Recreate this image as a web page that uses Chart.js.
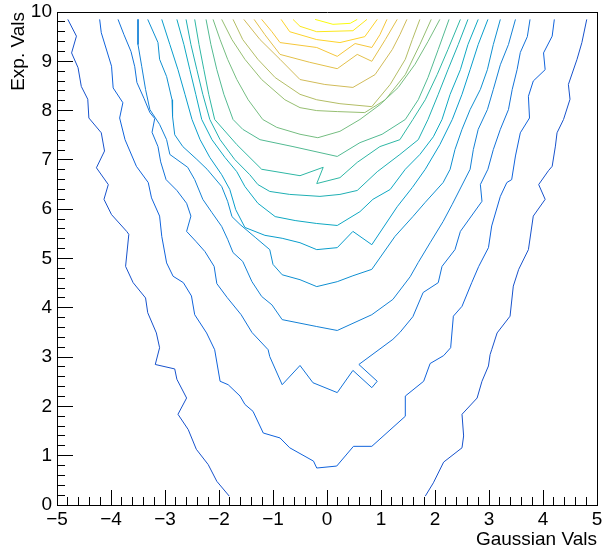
<!DOCTYPE html>
<html><head><meta charset="utf-8">
<script src="https://cdn.jsdelivr.net/npm/chart.js@4.4.1/dist/chart.umd.min.js"></script>
<style>html,body{margin:0;padding:0;background:#fff;overflow:hidden}</style>
</head><body>
<canvas id="c" width="603" height="554"></canvas>
<script>
// ---- contour lines (x = Gaussian Vals, y = Exp. Vals), outermost first ----
const level01a = [[-4.80,9.85],[-4.64,9.51],[-4.73,9.17],[-4.61,8.87],[-4.55,8.49],[-4.43,8.23],[-4.41,7.85],[-4.18,7.55],[-4.12,7.18],[-4.27,6.84],[-4.05,6.50],[-4.13,6.20],[-3.99,5.89],[-3.71,5.55],[-3.67,5.49],[-3.73,4.84],[-3.59,4.51],[-3.36,4.20],[-3.32,3.90],[-3.16,3.49],[-3.10,3.19],[-3.18,2.85],[-2.82,2.76],[-2.78,2.55],[-2.60,2.17],[-2.76,1.84],[-2.57,1.53],[-2.42,1.13],[-2.20,0.82],[-2.04,0.48],[-1.81,0.18]];
const level01b = [[1.82,0.18],[1.97,0.45],[2.16,0.87],[2.50,1.16],[2.53,1.40],[2.50,1.84],[2.78,2.17],[2.87,2.51],[2.99,2.82],[3.02,3.05],[3.05,3.15],[3.15,3.49],[3.39,3.83],[3.45,4.44],[3.55,4.78],[3.73,5.18],[3.82,5.86],[4.04,6.20],[3.92,6.50],[4.10,6.78],[4.17,6.87],[4.23,7.28],[4.26,7.55],[4.38,7.82],[4.50,8.23],[4.47,8.53],[4.63,9.04],[4.72,9.38],[4.81,9.85]];
const level02 = [[-4.21,9.85],[-4.18,9.58],[-3.99,8.90],[-3.96,8.46],[-3.78,8.16],[-3.84,7.85],[-3.74,7.41],[-3.53,6.87],[-3.31,6.54],[-3.25,6.23],[-3.10,5.86],[-3.06,5.45],[-2.97,4.91],[-2.85,4.64],[-2.66,4.51],[-2.51,4.24],[-2.45,3.86],[-2.23,3.49],[-2.08,3.15],[-1.98,2.51],[-1.83,2.44],[-1.61,2.21],[-1.52,2.04],[-1.37,1.90],[-1.18,1.46],[-0.87,1.36],[-0.69,1.16],[-0.25,0.89],[-0.19,0.75],[0.18,0.79],[0.49,1.19],[0.83,1.19],[1.45,1.80],[1.45,2.21],[1.79,2.51],[1.91,2.87],[2.16,3.03],[2.29,3.19],[2.34,3.83],[2.50,4.03],[2.68,4.51],[2.81,4.84],[2.99,5.22],[3.05,5.66],[3.21,6.26],[3.33,6.54],[3.42,6.60],[3.49,7.08],[3.58,7.55],[3.75,7.85],[3.73,8.29],[3.82,8.60],[4.04,8.83],[4.01,9.17],[4.17,9.51],[4.21,9.85]];
const level03 = [[-3.87,9.85],[-3.76,9.54],[-3.63,9.20],[-3.56,8.89],[-3.52,8.57],[-3.39,8.25],[-3.28,7.96],[-3.19,7.84],[-3.24,7.56],[-3.13,7.27],[-3.08,6.96],[-2.98,6.60],[-2.78,6.38],[-2.60,6.12],[-2.52,5.86],[-2.60,5.55],[-2.43,5.35],[-2.26,5.14],[-2.09,4.84],[-2.04,4.49],[-1.85,4.21],[-1.59,3.86],[-1.39,3.50],[-1.09,3.15],[-1.06,3.01],[-0.83,2.44],[-0.50,2.83],[-0.26,2.48],[0.19,2.28],[0.48,2.73],[0.83,2.38],[0.93,2.51],[0.59,2.85],[1.22,3.36],[1.35,3.50],[1.59,3.82],[1.78,4.31],[2.06,4.51],[2.13,4.84],[2.37,5.18],[2.47,5.55],[2.87,6.16],[2.84,6.50],[2.98,6.81],[3.08,7.21],[3.21,7.62],[3.36,8.02],[3.43,8.43],[3.52,8.83],[3.58,9.18],[3.71,9.50],[3.76,9.85]];
const level04 = [[-3.50,9.85],[-3.50,9.34],[-3.43,8.89],[-3.36,8.43],[-3.28,8.02],[-3.10,7.72],[-2.97,7.41],[-2.91,7.11],[-2.58,6.85],[-2.45,6.60],[-2.30,6.20],[-2.13,5.93],[-1.95,5.65],[-1.84,5.39],[-1.74,5.12],[-1.56,4.94],[-1.39,4.53],[-1.21,4.23],[-1.02,4.06],[-0.83,3.76],[-0.19,3.62],[0.19,3.54],[0.83,3.86],[1.22,4.17],[1.54,4.63],[1.69,4.92],[1.91,5.32],[2.15,5.75],[2.32,6.10],[2.65,6.81],[2.71,7.21],[2.80,7.62],[2.97,8.02],[3.08,8.43],[3.21,8.93],[3.36,9.34],[3.49,9.85]];
const level05 = [[-3.32,9.85],[-3.13,9.38],[-3.10,9.04],[-2.97,8.69],[-2.87,8.22],[-2.86,7.88],[-2.82,7.51],[-2.67,7.27],[-2.41,7.01],[-2.22,6.81],[-1.95,6.46],[-1.84,6.16],[-1.76,5.85],[-1.61,5.69],[-1.33,5.43],[-1.06,5.18],[-1.00,4.88],[-0.83,4.67],[-0.50,4.57],[-0.19,4.43],[0.19,4.53],[0.48,4.65],[0.83,4.78],[1.26,5.45],[1.59,5.85],[1.82,6.14],[2.15,6.54],[2.28,6.81],[2.37,7.21],[2.50,7.62],[2.65,8.02],[2.84,8.43],[2.97,8.83],[3.08,9.34],[3.21,9.85]];
const level06 = [[-3.06,9.85],[-2.91,9.34],[-2.76,8.83],[-2.63,8.33],[-2.50,7.82],[-2.35,7.41],[-2.17,7.05],[-1.95,6.70],[-1.80,6.40],[-1.69,5.99],[-1.52,5.63],[-1.15,5.47],[-0.83,5.41],[-0.50,5.32],[-0.19,5.18],[0.19,5.22],[0.48,5.55],[0.83,5.28],[1.30,6.05],[1.58,6.44],[1.82,6.81],[2.09,7.31],[2.32,7.82],[2.50,8.33],[2.65,8.83],[2.80,9.34],[2.98,9.85]];
const level07 = [[-2.78,9.85],[-2.65,9.34],[-2.54,8.83],[-2.43,8.33],[-2.32,7.82],[-2.13,7.41],[-1.89,7.05],[-1.67,6.76],[-1.52,6.46],[-1.28,6.12],[-0.96,5.85],[-0.59,5.77],[-0.19,5.71],[0.19,5.67],[0.61,5.95],[0.85,6.20],[1.17,6.40],[1.45,6.81],[1.72,7.11],[1.97,7.47],[2.13,7.82],[2.28,8.33],[2.47,8.83],[2.61,9.34],[2.80,9.85]];
const level08 = [[-2.61,9.85],[-2.52,9.34],[-2.41,8.83],[-2.30,8.33],[-2.17,7.82],[-1.98,7.41],[-1.71,7.01],[-1.43,6.70],[-1.28,6.50],[-1.06,6.36],[-0.69,6.30],[-0.13,6.26],[0.24,6.30],[0.56,6.38],[0.93,6.76],[1.35,7.11],[1.69,7.41],[1.87,7.82],[2.06,8.33],[2.24,8.83],[2.43,9.34],[2.61,9.85]];
const level09 = [[-2.45,9.85],[-2.37,9.34],[-2.28,8.83],[-2.19,8.33],[-2.08,7.82],[-1.67,7.31],[-1.21,6.81],[-0.50,6.68],[-0.07,6.85],[-0.19,6.52],[0.24,6.64],[0.56,6.95],[0.98,7.27],[1.35,7.41],[1.59,7.82],[1.82,8.22],[2.04,8.73],[2.24,9.24],[2.47,9.85]];
const level10 = [[-2.24,9.85],[-2.15,9.34],[-2.04,8.83],[-1.91,8.33],[-1.74,7.82],[-1.56,7.62],[-1.24,7.41],[-0.63,7.27],[0.19,7.07],[0.61,7.35],[1.02,7.52],[1.45,7.82],[1.69,8.22],[1.87,8.67],[2.06,9.24],[2.26,9.85]];
const level11 = [[-2.11,9.85],[-1.98,9.44],[-1.84,9.04],[-1.67,8.63],[-1.46,8.22],[-1.19,7.82],[-0.93,7.66],[-0.50,7.52],[-0.17,7.45],[0.24,7.58],[0.61,7.82],[0.98,8.12],[1.32,8.47],[1.63,8.94],[1.87,9.40],[2.09,9.85]];
const level12 = [[-1.95,9.85],[-1.76,9.44],[-1.52,9.04],[-1.21,8.63],[-0.78,8.22],[-0.50,8.06],[-0.19,8.00],[0.19,7.98],[0.70,7.96],[1.08,8.22],[1.45,8.73],[1.72,9.34],[1.93,9.85]];
const level13 = [[-1.74,9.85],[-1.56,9.44],[-1.28,9.04],[-0.96,8.67],[-0.50,8.33],[-0.19,8.22],[0.24,8.14],[0.83,8.08],[1.17,8.53],[1.45,9.04],[1.58,9.44],[1.72,9.85]];
const level14 = [[-1.54,9.85],[-1.24,9.44],[-0.87,9.04],[-0.50,8.63],[-0.04,8.53],[0.48,8.47],[0.89,8.73],[1.21,9.24],[1.35,9.54],[1.48,9.85]];
const level15 = [[-1.35,9.85],[-1.15,9.54],[-0.87,9.14],[-0.32,8.98],[0.19,8.85],[0.56,9.14],[0.83,9.00],[1.08,9.44],[1.30,9.85]];
const level16 = [[-1.21,9.85],[-1.02,9.60],[-0.87,9.38],[-0.19,9.28],[0.19,9.10],[0.52,9.36],[0.83,9.28],[0.98,9.54],[1.11,9.85]];
const level17 = [[-0.85,9.85],[-0.69,9.60],[-0.19,9.44],[0.24,9.38],[0.70,9.50],[0.93,9.85]];
const level18 = [[-0.63,9.85],[-0.50,9.71],[-0.19,9.60],[0.48,9.62],[0.74,9.85]];
const level19 = [[-0.22,9.85],[0.11,9.75],[0.43,9.77],[0.56,9.85]];

const contourLines = [level01a, level01b, level02, level03, level04, level05, level06, level07, level08, level09, level10, level11, level12, level13, level14, level15, level16, level17, level18, level19];
const contourLevel = [0,0,1,2,3,4,5,6,7,8,9,10,11,12,13,14,15,16,17,18];
const nLevels = 19;

const xTickValues = [-5,-4,-3,-2,-1,0,1,2,3,4,5];
const yTickValues = [0,1,2,3,4,5,6,7,8,9,10];
const xTitle = 'Gaussian Vals';
const yTitle = 'Exp. Vals';

// ---- kBird palette ----
const birdStops=[0,0.125,0.25,0.375,0.5,0.625,0.75,0.875,1];
const birdR=[0.2082,0.0592,0.0780,0.0232,0.1802,0.5301,0.8186,0.9956,0.9764];
const birdG=[0.1664,0.3599,0.5041,0.6419,0.7178,0.7492,0.7328,0.7862,0.9832];
const birdB=[0.5293,0.8684,0.8385,0.7914,0.6425,0.4662,0.3499,0.1968,0.0539];
function birdColor(t){
  let i=0; while(i<7 && t>birdStops[i+1]) i++;
  const f=(t-birdStops[i])/(birdStops[i+1]-birdStops[i]);
  const c=a=>Math.round(255*(a[i]+(a[i+1]-a[i])*f));
  return 'rgb('+c(birdR)+','+c(birdG)+','+c(birdB)+')';
}
function levelColor(k){ return birdColor(0.1 + 0.9*k/(nLevels-1)); }

const FONT = "'Liberation Sans', Arial, Helvetica, sans-serif";
const fmt = v => (v<0 ? '\u2212'+Math.abs(v) : String(v));

const datasets = contourLines.map((pts,k)=>({
  data: pts.map(p=>({x:p[0], y:p[1]})),
  showLine:true, borderColor: levelColor(contourLevel[k]), borderWidth:1,
  pointRadius:0, pointHoverRadius:0, tension:0, fill:false,
  xAxisID:'x', yAxisID:'y'
}));

new Chart(document.getElementById('c').getContext('2d'), {
  type:'scatter',
  data:{datasets},
  options:{
    responsive:false, animation:false, devicePixelRatio:1, events:[],
    layout:{padding:{top:12,right:6,left:0,bottom:0}},
    plugins:{legend:{display:false}, tooltip:{enabled:false}},
    scales:{
      x:{type:'linear', axis:'x', position:'bottom', weight:2, min:-5, max:5,
        afterBuildTicks(s){ s.ticks = xTickValues.map(v=>({value:v})); },
        ticks:{stepSize:1, autoSkip:false, maxRotation:0, color:'#000', font:{family:FONT,size:19}, padding:18, callback:fmt},
        grid:{drawOnChartArea:false, drawTicks:true, tickLength:-15, tickColor:'#000', tickWidth:1},
        border:{display:true, color:'#000', width:1},
        title:{display:true, text:xTitle, align:'end', color:'#000', font:{family:FONT,size:19}, padding:{top:0,bottom:3}},
        afterFit(s){ s.height = 49; s.paddingLeft = 0; s.paddingRight = 0; }
      },
      xMinor:{type:'linear', axis:'x', position:'bottom', weight:1, min:-5, max:5,
        ticks:{stepSize:0.2, display:false},
        grid:{drawOnChartArea:false, drawTicks:true, tickLength:-8, tickColor:'#000', tickWidth:1},
        border:{display:false},
        afterFit(s){ s.height = 0; s.paddingLeft = 0; s.paddingRight = 0; }
      },
      xTop:{type:'linear', axis:'x', position:'top', min:-5, max:5,
        ticks:{display:false}, grid:{display:false}, border:{display:true, color:'#000', width:1},
        afterFit(s){ s.height = 0; s.paddingLeft = 0; s.paddingRight = 0; }
      },
      y:{type:'linear', axis:'y', position:'left', weight:2, min:0, max:10,
        afterBuildTicks(s){ s.ticks = yTickValues.map(v=>({value:v})); },
        ticks:{stepSize:1, autoSkip:false, color:'#000', font:{family:FONT,size:19}, padding:21, callback:fmt},
        grid:{drawOnChartArea:false, drawTicks:true, tickLength:-16, tickColor:'#000', tickWidth:1},
        border:{display:true, color:'#000', width:1},
        title:{display:true, text:yTitle, align:'end', color:'#000', font:{family:FONT,size:19}, padding:{top:7,bottom:0}},
        afterFit(s){ s.width = 57; s.paddingTop = 0; s.paddingBottom = 0; }
      },
      yMinor:{type:'linear', axis:'y', position:'left', weight:1, min:0, max:10,
        ticks:{stepSize:0.2, display:false},
        grid:{drawOnChartArea:false, drawTicks:true, tickLength:-8, tickColor:'#000', tickWidth:1},
        border:{display:false},
        afterFit(s){ s.width = 0; s.paddingTop = 0; s.paddingBottom = 0; }
      },
      yRight:{type:'linear', axis:'y', position:'right', min:0, max:10,
        ticks:{display:false}, grid:{display:false}, border:{display:true, color:'#000', width:1},
        afterFit(s){ s.width = 0; s.paddingTop = 0; s.paddingBottom = 0; }
      }
    }
  }
});
</script>
</body></html>
